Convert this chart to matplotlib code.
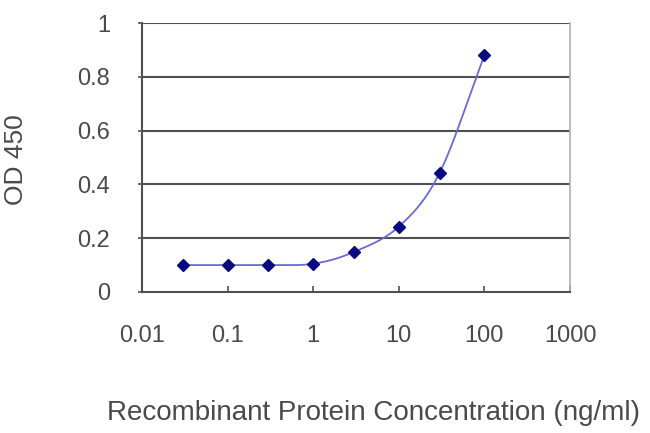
import numpy as np
import matplotlib
matplotlib.use("Agg")
import matplotlib.pyplot as plt

conc = [0.03, 0.1, 0.3, 1, 3, 10, 30, 100]
od = [0.100, 0.100, 0.100, 0.105, 0.149, 0.243, 0.443, 0.881]
xticks = [0.01, 0.1, 1, 10, 100, 1000]
xticklabels = ["0.01", "0.1", "1", "10", "100", "1000"]
yticks = [0, 0.2, 0.4, 0.6, 0.8, 1]
yticklabels = ["0", "0.2", "0.4", "0.6", "0.8", "1"]

plt.rcParams['font.family'] = ['Liberation Sans', 'DejaVu Sans']
txt = '#4a4a4a'

fig = plt.figure(figsize=(6.5, 4.33), dpi=100)
ax = fig.add_axes([142/650, 1-292/433, (570-142)/650, (292-23)/433])

# smoothed line (Catmull-Rom through the data in log-x space)
lx = np.log10(conc)
yy = np.array(od)
P = np.column_stack([lx, yy])
Pext = np.vstack([2*P[0]-P[1], P, 2*P[-1]-P[-2]])
sx, sy = [], []
for i in range(1, len(Pext)-2):
    p0, p1, p2, p3 = Pext[i-1], Pext[i], Pext[i+1], Pext[i+2]
    for t in np.linspace(0, 1, 20, endpoint=False):
        t2, t3 = t*t, t*t*t
        pt = 0.5*((2*p1) + (-p0+p2)*t + (2*p0-5*p1+4*p2-p3)*t2 + (-p0+3*p1-3*p2+p3)*t3)
        sx.append(pt[0]); sy.append(pt[1])
sx.append(P[-1][0]); sy.append(P[-1][1])
ax.plot(10**np.array(sx), sy, color='#6a6acf', lw=1.3, zorder=3)
ax.plot(conc, od, linestyle='none', marker='D', color='#0a0a80', markersize=6, zorder=4)

ax.set_xscale('log')
ax.set_xlim(0.01, 1000)
ax.set_ylim(0, 1)
ax.set_xticks(xticks)
ax.set_xticklabels(xticklabels)
ax.xaxis.set_minor_locator(matplotlib.ticker.NullLocator())
ax.set_yticks(yticks)
ax.set_yticklabels(yticklabels)

for y in yticks[1:]:
    ax.axhline(y, color='#505050', lw=1.5, zorder=1)

for s in ['left', 'bottom']:
    ax.spines[s].set_color('#505050')
    ax.spines[s].set_linewidth(1.5)
ax.spines['top'].set_visible(False)
ax.spines['right'].set_color('#b0b0b0')
ax.spines['right'].set_linewidth(1.2)

ax.tick_params(axis='x', direction='in', length=4, width=1.2, color='#505050',
               labelsize=17, labelcolor=txt, pad=24)
ax.tick_params(axis='y', direction='out', length=3, width=1.2, color='#505050',
               labelsize=17, labelcolor=txt, pad=20)

fig.text(16/650, 1-160/433, 'OD 450', rotation=90, ha='center', va='center',
         fontsize=19, color=txt)
fig.text(373/650, 1-420/433, 'Recombinant Protein Concentration (ng/ml)',
         ha='center', va='baseline', fontsize=20, color=txt)

fig.savefig('out.png', dpi=100)
